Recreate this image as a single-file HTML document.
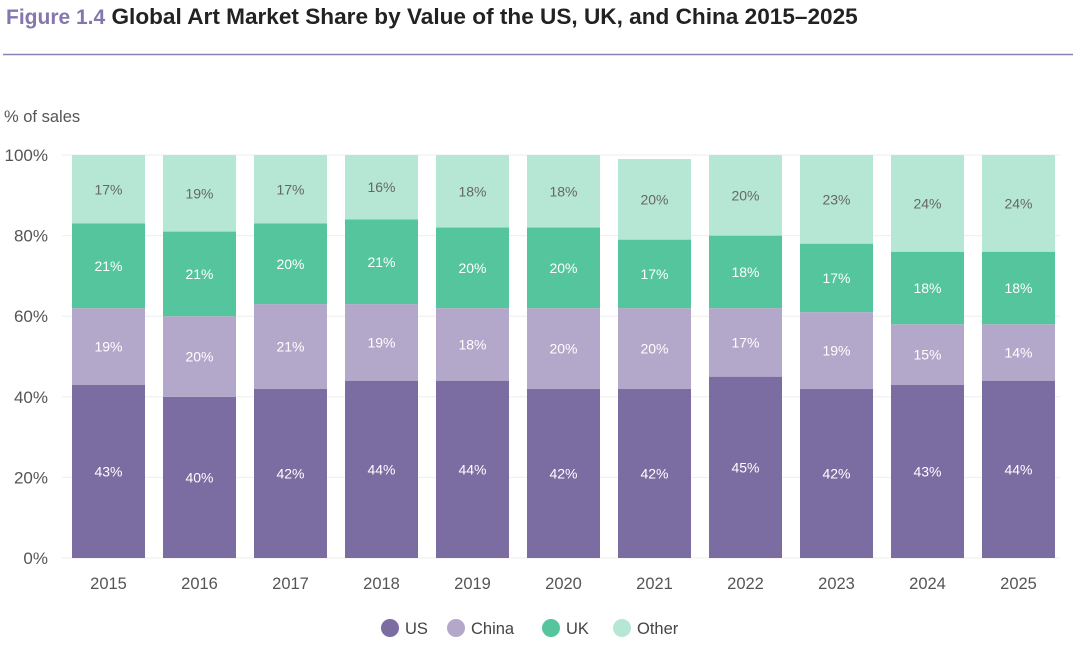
<!DOCTYPE html>
<html><head><meta charset="utf-8"><style>
body{margin:0;background:#fff;font-family:"Liberation Sans",sans-serif;}
</style></head><body>
<svg width="1080" height="652" xmlns="http://www.w3.org/2000/svg">
<text x="6" y="24" font-size="21" font-weight="bold"><tspan fill="#8577ad">Figure 1.4</tspan><tspan fill="#222" font-size="22.6"> Global Art Market Share by Value of the US, UK, and China 2015–2025</tspan></text>
<line x1="3" y1="54.5" x2="1073" y2="54.5" stroke="#8a84b4" stroke-width="1.5"/>
<text x="4" y="122" font-size="16.5" fill="#555">% of sales</text>
<g id="grid"></g><g id="bars"></g><g id="axes"></g><g id="legend"></g>
</svg>
<script>
const years=['2015','2016','2017','2018','2019','2020','2021','2022','2023','2024','2025'];
const us=[43,40,42,44,44,42,42,45,42,43,44];
const china=[19,20,21,19,18,20,20,17,19,15,14];
const uk=[21,21,20,21,20,20,17,18,17,18,18];
const other=[17,19,17,16,18,18,20,20,23,24,24];
const yTicks=[0,20,40,60,80,100];
const series=[['us',us,'#7b6ca1','#fff'],['china',china,'#b4a8ca','#fff'],['uk',uk,'#54c59d','#fff'],['other',other,'#b6e7d5','#666']];
const NS='http://www.w3.org/2000/svg';
const y0=558,y1=155;
const y=v=>y0-(y0-y1)*v/100;
const x=i=>72+91*i;
const bw=73;
function mk(t,a,p){const e=document.createElementNS(NS,t);for(const k in a)e.setAttribute(k,a[k]);p.appendChild(e);return e;}
const grid=document.getElementById('grid'),bars=document.getElementById('bars'),axes=document.getElementById('axes'),legend=document.getElementById('legend');
yTicks.forEach(t=>{
 const l=mk('line',{x1:62,x2:1060,y1:y(t),y2:y(t),stroke:'#eee'},grid);
 
 
 const tx=mk('text',{x:48,y:y(t)+6,'text-anchor':'end','font-size':17,fill:'#555'},axes);
 tx.textContent=t+'%';
 
 
});
years.forEach((yr,i)=>{
 let base=0;
 series.forEach(s=>{
  const v=s[1][i];
  const top=Math.min(base+v,100);
  const r=mk('rect',{x:x(i),y:y(top),width:bw,height:y(base)-y(top),fill:s[2]},bars);
  
  
  const t=mk('text',{x:x(i)+bw/2,y:(y(base)+y(top))/2+5,'text-anchor':'middle','font-size':14,fill:s[3]},bars);
  t.textContent=Math.round(v)+'%';
  
  
  base+=v;
 });
 const t=mk('text',{x:x(i)+bw/2,y:589,'text-anchor':'middle','font-size':16.5,fill:'#555'},axes);
 t.textContent=yr;
 
 
});
const leg=[['US','#7b6ca1',390],['China','#b4a8ca',456],['UK','#54c59d',551],['Other','#b6e7d5',622]];
leg.forEach(l=>{
 const g=mk('g',{},legend);
 
 
 mk('circle',{cx:l[2],cy:628,r:9,fill:l[1]},g);
 const t=mk('text',{x:l[2]+15,y:634,'font-size':16.5,fill:'#444'},g);
 t.textContent=l[0];
});
</script>
</body></html>
